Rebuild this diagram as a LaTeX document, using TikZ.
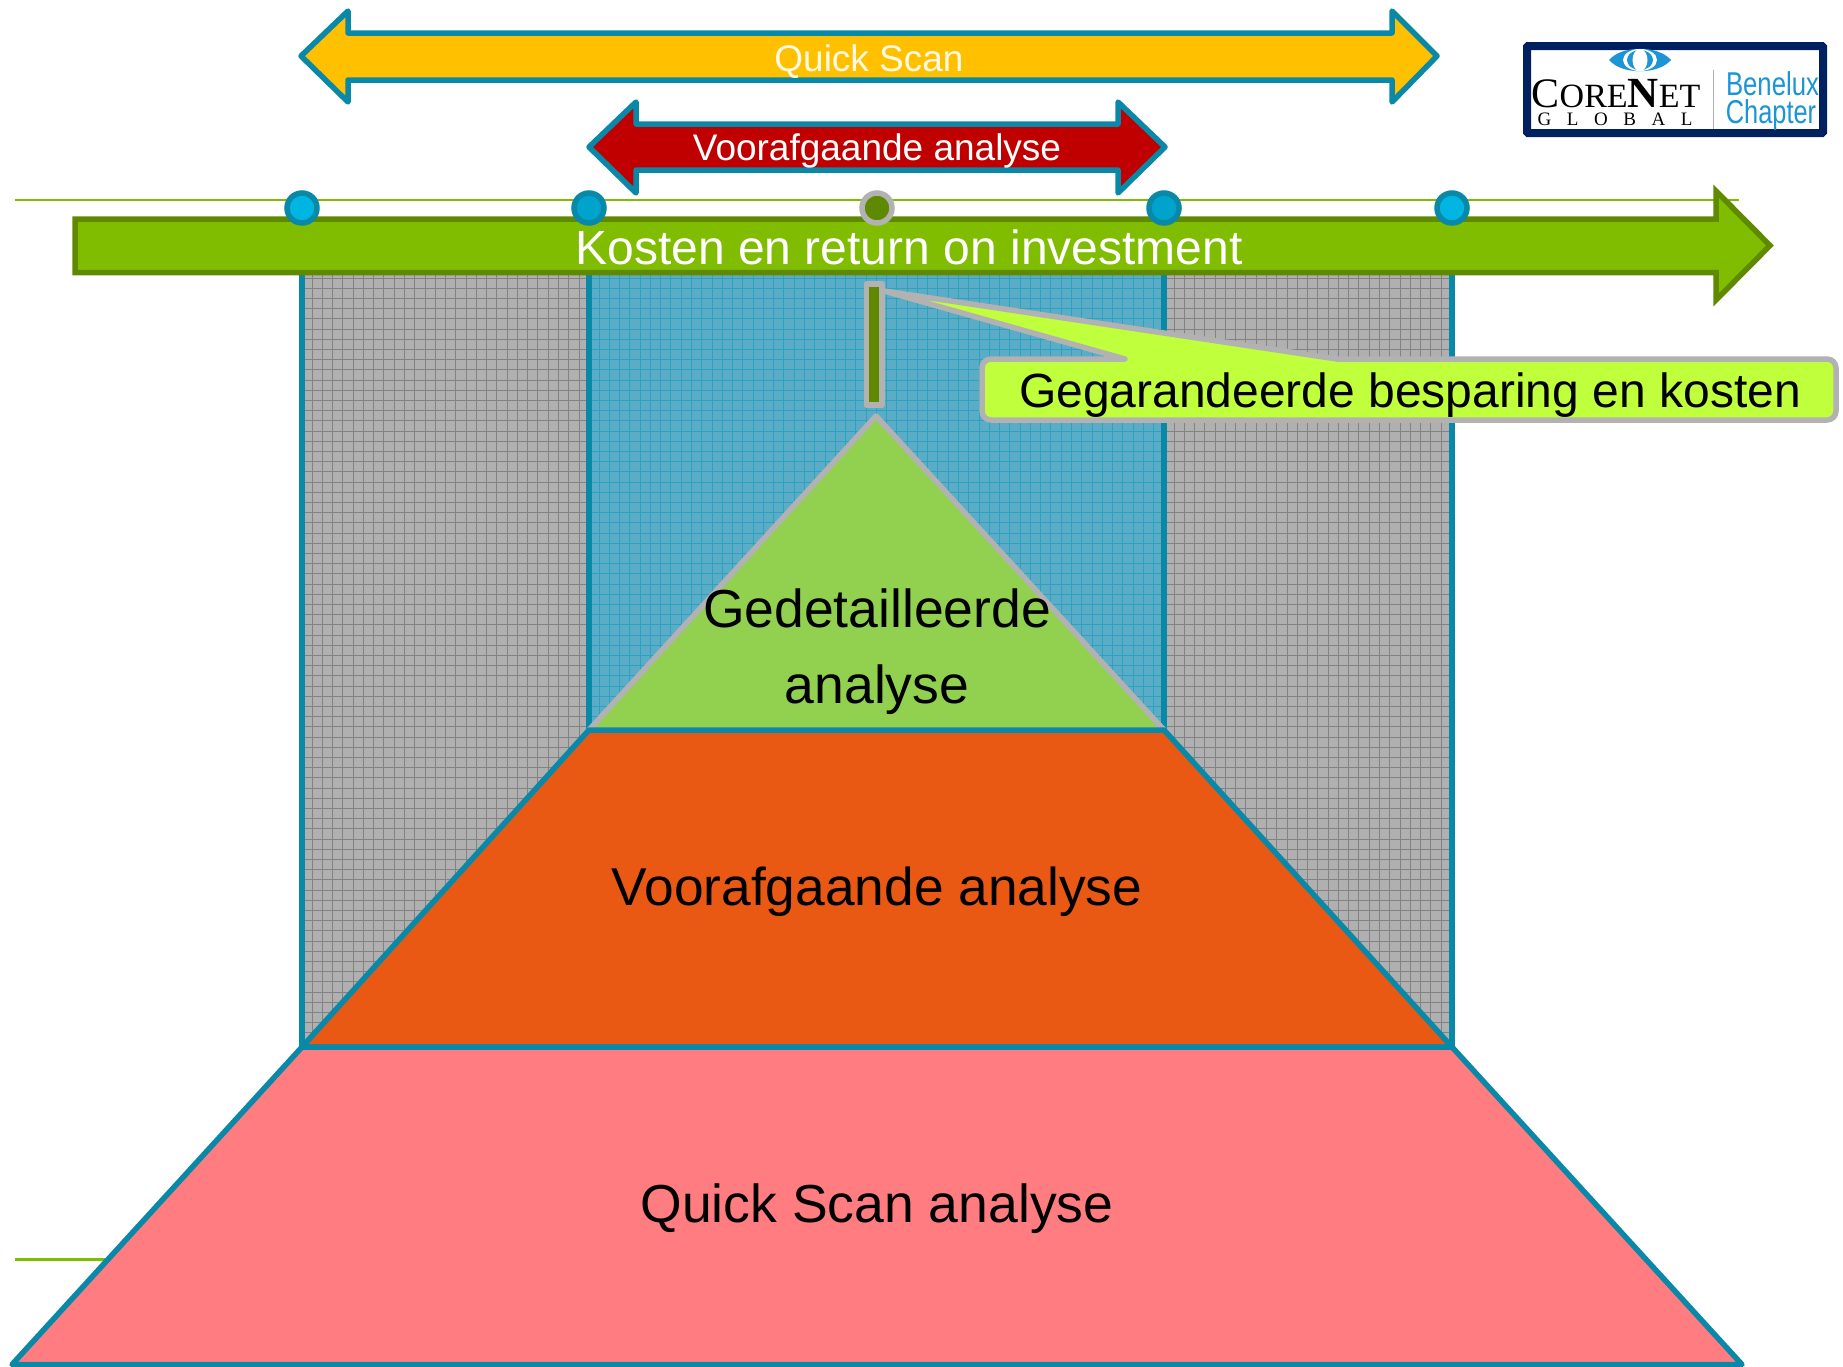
\documentclass[tikz,border=0pt]{standalone}
\usepackage{fontspec}
\setmainfont{Liberation Sans}
\newfontfamily\serifface{Liberation Serif}
\definecolor{teal}{HTML}{0A88A8}
\definecolor{amber}{HTML}{FFC000}
\definecolor{darkred}{HTML}{C00000}
\definecolor{barg}{HTML}{80BC00}
\definecolor{darkg}{HTML}{5F8A00}
\definecolor{orangeb}{HTML}{EA5914}
\definecolor{pinkb}{HTML}{FF7C80}
\definecolor{lightg}{HTML}{92D050}
\definecolor{lime}{HTML}{BFFF3C}
\definecolor{silver}{HTML}{B2B2B2}
\definecolor{navy}{HTML}{00205F}
\definecolor{skyb}{HTML}{1B95D6}
\definecolor{colgray}{HTML}{B0B0B0}
\definecolor{colblue}{HTML}{5BADC7}
\definecolor{gridblue}{HTML}{2AA2C0}
\definecolor{gridgray}{HTML}{828282}
\definecolor{dotlight}{HTML}{00B5E2}
\definecolor{dotmid}{HTML}{00A3CC}
\newcommand{\pxfont}[1]{\fontsize{#1}{#1}\selectfont}
\tikzset{
  x=1pt,y=-1pt,
  dot/.style={circle,draw=teal,line width=5.5pt,minimum size=30pt,inner sep=0pt},
  tealshape/.style={draw=teal,line width=5.5pt,line join=round},
  silvershape/.style={draw=silver,line width=5.5pt,line join=round},
  thing/.style={draw=barg,line width=2pt},
  label/.style={anchor=base,inner sep=0pt,align=center},
}
\begin{document}
\begin{tikzpicture}
\useasboundingbox (0,0) rectangle (1843,1366);
% columns
\fill[colgray] (302,272) rectangle (1452,1047);
\fill[colblue] (589,272) rectangle (1164,730);
\begin{scope}
\clip (302,272) rectangle (589,1047);
\foreach \i in {0,...,28} \draw[gridgray,line width=.9pt] (312+\i*10.27,272) -- (312+\i*10.27,1047);
\foreach \i in {0,...,76} \draw[gridgray,line width=.9pt] (302,278+\i*10.2) -- (589,278+\i*10.2);
\end{scope}
\begin{scope}
\clip (1164,272) rectangle (1452,1047);
\foreach \i in {0,...,28} \draw[gridgray,line width=.9pt] (1174+\i*10.27,272) -- (1174+\i*10.27,1047);
\foreach \i in {0,...,76} \draw[gridgray,line width=.9pt] (1164,278+\i*10.2) -- (1452,278+\i*10.2);
\end{scope}
\begin{scope}
\clip (589,272) rectangle (1164,730);
\foreach \i in {0,...,56} \draw[gridblue,line width=.9pt] (599+\i*10.27,272) -- (599+\i*10.27,730);
\foreach \i in {0,...,45} \draw[gridblue,line width=.9pt] (589,278+\i*10.2) -- (1164,278+\i*10.2);
\end{scope}
\draw[teal,line width=5.5pt] (302,1047) -- (302,272);
\draw[teal,line width=5.5pt] (589,730) -- (589,272);
\draw[teal,line width=5.5pt] (1164,730) -- (1164,272);
\draw[teal,line width=5.5pt] (1452,1047) -- (1452,272);
% thin lines
\draw[thing] (15,200) -- (1739,200);
\draw[barg,line width=3pt] (15,1259) -- (110,1259);
% pyramid
\draw[silvershape,fill=lightg] (876,416) -- (589,730) -- (1164,730) -- cycle;
\draw[tealshape,fill=orangeb] (589,730) -- (1164,730) -- (1452,1047) -- (302,1047) -- cycle;
\draw[tealshape,fill=pinkb] (302,1047) -- (1452,1047) -- (1742,1364.5) -- (12,1364.5) -- cycle;
% arrows
\draw[tealshape,fill=amber] (301,56) -- (348,11) -- (348,33) -- (1392,33) -- (1392,11) -- (1437,56) -- (1392,102) -- (1392,80) -- (348,80) -- (348,102) -- cycle;
\draw[tealshape,fill=darkred] (589,147) -- (636,102) -- (636,124) -- (1118,124) -- (1118,102) -- (1165,147) -- (1118,193) -- (1118,170) -- (636,170) -- (636,193) -- cycle;
\draw[draw=darkg,fill=barg,line width=5.5pt,line join=miter] (75,219) -- (1716,219) -- (1716,191) -- (1770,245.5) -- (1716,300) -- (1716,272.5) -- (75,272.5) -- cycle;
% dots
\node[dot,fill=dotlight] (d1) at (302,208) {};
\node[dot,fill=dotmid] (d2) at (589,208) {};
\node[dot,draw=silver,fill=darkg] (d3) at (877,208) {};
\node[dot,fill=dotmid] (d4) at (1164,208) {};
\node[dot,fill=dotlight] (d5) at (1452,208) {};
% callout
\draw[silvershape,fill=darkg] (866.5,284) rectangle (882,405);
\draw[silvershape,fill=lime] (884,291)
  -- (1337,359) -- (1827,359)
  to[out=0,in=90] (1836,368) -- (1836,411)
  to[out=-90,in=0] (1827,420) -- (991,420)
  to[out=180,in=-90] (982,411) -- (982,368)
  to[out=90,in=180] (991,359) -- (1125,359) -- cycle;
% logo
\draw[navy,line width=8pt,fill=white,rounded corners=1pt] (1527,46) rectangle (1823,133);
\fill[skyb] (1609,60) .. controls (1622,45) and (1658,45) .. (1671,60) .. controls (1658,75) and (1622,75) .. (1609,60) -- cycle;
\fill[white] (1640,60) ellipse[x radius=17,y radius=11];
\fill[skyb] (1640,60) ellipse[x radius=13,y radius=10];
\fill[white] (1640,60) ellipse[x radius=7.5,y radius=11];
\draw[silver,line width=1pt] (1713,70) -- (1713,129);
\node[label,text=black] (corenet) at (1616,107) {\serifface\pxfont{42}C\pxfont{34}ORE\pxfont{43}\textbf{N}\pxfont{34}ET};
\node[label,text=black] (global) at (1615,125) {\serifface\pxfont{19}G\hspace{.82em}L\hspace{.82em}O\hspace{.82em}B\hspace{.82em}A\hspace{.82em}L};
\node[label,text=skyb,xscale=.78] (benelux) at (1772.5,95) {\pxfont{33}Benelux};
\node[label,text=skyb,xscale=.77] (chapter) at (1771,123) {\pxfont{33}Chapter};
% text
\node[label,text=white!90!amber] (t1) at (869,71) {\pxfont{37}Quick Scan};
\node[label,text=white] (t2) at (877,160) {\pxfont{37}Voorafgaande analyse};
\node[label,text=white] (t3) at (909,264) {\pxfont{48}Kosten en return on investment};
\node[label,text=black] (t4) at (1410,407) {\pxfont{48}Gegarandeerde besparing en kosten};
\node[label,text=black] (t5) at (877,627) {\pxfont{53.5}Gedetailleerde};
\node[label,text=black] (t6) at (877,703) {\pxfont{53.5}analyse};
\node[label,text=black] (t7) at (877,905) {\pxfont{53.3}Voorafgaande analyse};
\node[label,text=black] (t8) at (877,1222) {\pxfont{53.5}Quick Scan analyse};
\end{tikzpicture}
\end{document}
